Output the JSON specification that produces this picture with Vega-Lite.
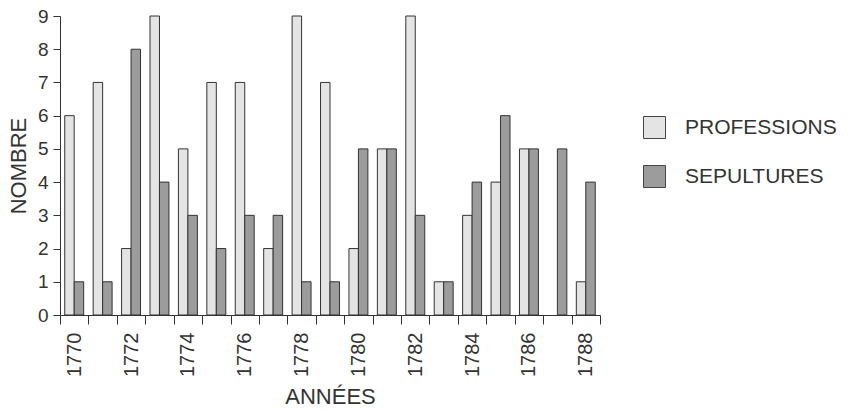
{
  "$schema": "https://vega.github.io/schema/vega-lite/v6.json",
  "autosize": "none",
  "width": 540,
  "height": 299,
  "padding": {"left": 60, "top": 16, "right": 261, "bottom": 98},
  "background": "white",
  "config": {
    "font": "Liberation Sans",
    "view": {"stroke": null},
    "axis": {"domainColor": "#333", "tickColor": "#333", "labelColor": "#333", "titleColor": "#333", "titleFontWeight": "normal", "grid": false}
  },
  "data": {
    "values": [
      {"annee": 1770, "serie": "PROFESSIONS", "nombre": 6}, {"annee": 1770, "serie": "SEPULTURES", "nombre": 1},
      {"annee": 1771, "serie": "PROFESSIONS", "nombre": 7}, {"annee": 1771, "serie": "SEPULTURES", "nombre": 1},
      {"annee": 1772, "serie": "PROFESSIONS", "nombre": 2}, {"annee": 1772, "serie": "SEPULTURES", "nombre": 8},
      {"annee": 1773, "serie": "PROFESSIONS", "nombre": 9}, {"annee": 1773, "serie": "SEPULTURES", "nombre": 4},
      {"annee": 1774, "serie": "PROFESSIONS", "nombre": 5}, {"annee": 1774, "serie": "SEPULTURES", "nombre": 3},
      {"annee": 1775, "serie": "PROFESSIONS", "nombre": 7}, {"annee": 1775, "serie": "SEPULTURES", "nombre": 2},
      {"annee": 1776, "serie": "PROFESSIONS", "nombre": 7}, {"annee": 1776, "serie": "SEPULTURES", "nombre": 3},
      {"annee": 1777, "serie": "PROFESSIONS", "nombre": 2}, {"annee": 1777, "serie": "SEPULTURES", "nombre": 3},
      {"annee": 1778, "serie": "PROFESSIONS", "nombre": 9}, {"annee": 1778, "serie": "SEPULTURES", "nombre": 1},
      {"annee": 1779, "serie": "PROFESSIONS", "nombre": 7}, {"annee": 1779, "serie": "SEPULTURES", "nombre": 1},
      {"annee": 1780, "serie": "PROFESSIONS", "nombre": 2}, {"annee": 1780, "serie": "SEPULTURES", "nombre": 5},
      {"annee": 1781, "serie": "PROFESSIONS", "nombre": 5}, {"annee": 1781, "serie": "SEPULTURES", "nombre": 5},
      {"annee": 1782, "serie": "PROFESSIONS", "nombre": 9}, {"annee": 1782, "serie": "SEPULTURES", "nombre": 3},
      {"annee": 1783, "serie": "PROFESSIONS", "nombre": 1}, {"annee": 1783, "serie": "SEPULTURES", "nombre": 1},
      {"annee": 1784, "serie": "PROFESSIONS", "nombre": 3}, {"annee": 1784, "serie": "SEPULTURES", "nombre": 4},
      {"annee": 1785, "serie": "PROFESSIONS", "nombre": 4}, {"annee": 1785, "serie": "SEPULTURES", "nombre": 6},
      {"annee": 1786, "serie": "PROFESSIONS", "nombre": 5}, {"annee": 1786, "serie": "SEPULTURES", "nombre": 5},
      {"annee": 1787, "serie": "SEPULTURES", "nombre": 5},
      {"annee": 1788, "serie": "PROFESSIONS", "nombre": 1}, {"annee": 1788, "serie": "SEPULTURES", "nombre": 4}
    ]
  },
  "mark": {"type": "bar", "stroke": "#333", "strokeWidth": 1},
  "encoding": {
    "x": {
      "field": "annee",
      "type": "ordinal",
      "title": "ANNÉES",
      "scale": {"paddingInner": 0, "paddingOuter": 0},
      "axis": {
        "labelAngle": -90,
        "labelFontSize": 20,
        "labelPadding": 8,
        "labelExpr": "datum.value % 2 == 0 ? datum.label : ''",
        "tickBand": "extent",
        "tickSize": 9,
        "titleFontSize": 22,
        "titlePadding": 10
      }
    },
    "xOffset": {
      "field": "serie",
      "type": "nominal",
      "scale": {"domain": ["PROFESSIONS", "SEPULTURES"], "paddingInner": 0, "paddingOuter": 0.5}
    },
    "y": {
      "field": "nombre",
      "type": "quantitative",
      "title": "NOMBRE",
      "scale": {"domain": [0, 9], "nice": false},
      "axis": {
        "values": [0, 1, 2, 3, 4, 5, 6, 7, 8, 9],
        "labelFontSize": 19,
        "labelPadding": 5,
        "tickSize": 7,
        "titleFontSize": 22,
        "titlePadding": 7
      }
    },
    "fill": {
      "field": "serie",
      "type": "nominal",
      "title": null,
      "scale": {"domain": ["PROFESSIONS", "SEPULTURES"], "range": ["#e4e4e4", "#9c9c9c"]},
      "legend": {
        "orient": "none",
        "legendX": 583,
        "legendY": 100,
        "symbolType": "square",
        "symbolSize": 484,
        "symbolStrokeColor": "#444",
        "symbolStrokeWidth": 1,
        "labelFontSize": 21,
        "labelColor": "#333",
        "labelOffset": 19,
        "rowPadding": 22
      }
    }
  }
}
